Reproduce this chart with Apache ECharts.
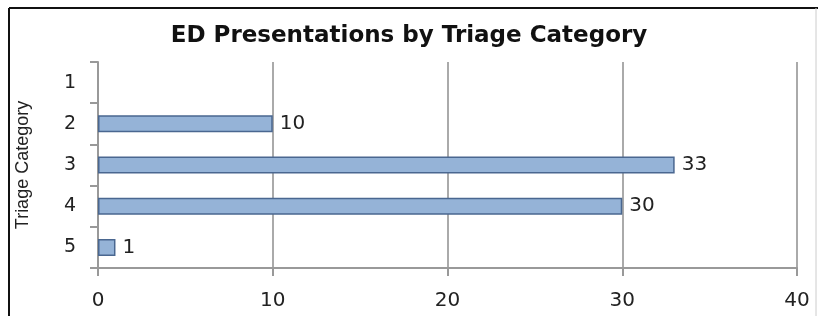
<!DOCTYPE html>
<html>
<head>
<meta charset="utf-8">
<script src="https://cdn.jsdelivr.net/npm/echarts@6/dist/echarts.min.js"></script>
<style>
  html, body { margin: 0; padding: 0; background: #fff; }
  #chart { width: 818px; height: 316px; }
</style>
</head>
<body>
<div id="chart"></div>
<script>
// data
var categories = ['1', '2', '3', '4', '5'];
var presentations = [0, 10, 33, 30, 1];
var valueTicks = [0, 10, 20, 30, 40];

var chart = echarts.init(document.getElementById('chart'));

var options = {
    backgroundColor: '#fff',
    animation: false,
    title: {
        text: 'ED Presentations by Triage Category',
        left: 'center',
        top: 20,
        textStyle: {
            fontFamily: 'DejaVu Sans',
            fontWeight: 'bold',
            fontSize: 23,
            color: '#111'
        }
    },
    grid: {
        left: 98,
        right: 21,
        top: 62,
        bottom: 48
    },
    xAxis: {
        type: 'value',
        min: valueTicks[0],
        max: valueTicks[valueTicks.length - 1],
        interval: 10,
        axisLine: { show: true, lineStyle: { color: '#999', width: 2 } },
        axisTick: { show: true, length: 8, lineStyle: { color: '#999', width: 2 } },
        splitLine: { show: true, lineStyle: { color: '#aaa', width: 2 } },
        axisLabel: {
            margin: 23,
            fontFamily: 'DejaVu Sans',
            fontSize: 20,
            color: '#222'
        }
    },
    yAxis: {
        type: 'category',
        data: categories,
        inverse: true,
        name: 'Triage Category',
        nameLocation: 'middle',
        nameGap: 66,
        nameTextStyle: {
            fontFamily: 'Liberation Sans',
            fontSize: 18,
            color: '#222'
        },
        axisLine: { show: true, lineStyle: { color: '#999', width: 2 } },
        axisTick: { show: true, length: 8, lineStyle: { color: '#999', width: 2 } },
        axisLabel: {
            margin: 22,
            fontFamily: 'DejaVu Sans',
            fontSize: 19,
            color: '#222'
        }
    },
    series: [{
        type: 'bar',
        data: presentations.map(function (v) { return v === 0 ? null : v; }),
        barWidth: 17,
        itemStyle: {
            color: '#95b3d7',
            borderColor: '#4a6790',
            borderWidth: 1.5
        },
        label: {
            show: true,
            position: 'right',
            distance: 7,
            fontFamily: 'DejaVu Sans',
            fontSize: 20,
            color: '#222'
        }
    }],
    graphic: [
        // frame around the chart
        { type: 'line', shape: { x1: 9, y1: 8, x2: 818, y2: 8 }, style: { stroke: '#111', lineWidth: 2 } },
        { type: 'line', shape: { x1: 9, y1: 8, x2: 9, y2: 316 }, style: { stroke: '#111', lineWidth: 2 } },
        { type: 'line', shape: { x1: 816, y1: 8, x2: 816, y2: 316 }, style: { stroke: '#ccc', lineWidth: 1 } }
    ]
};

chart.setOption(options);

window.addEventListener('resize', function () {
    chart.resize();
});
</script>
</body>
</html>
